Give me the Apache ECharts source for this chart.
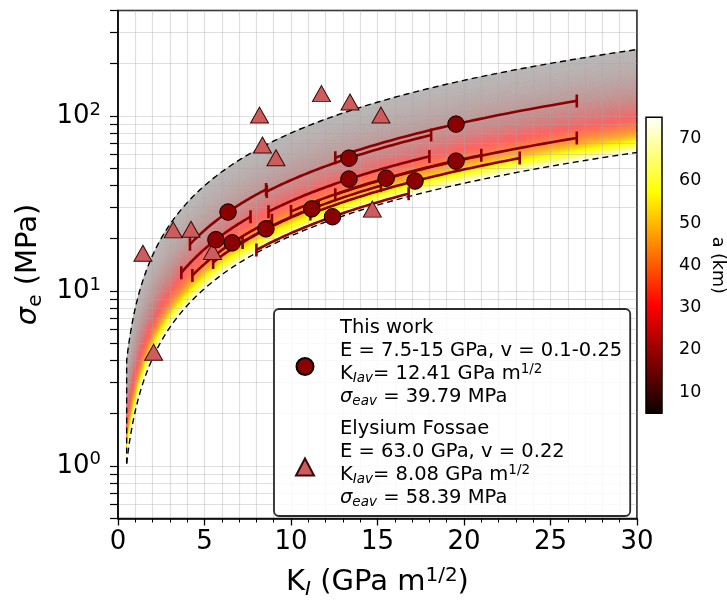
<!DOCTYPE html>
<html><head><meta charset="utf-8">
<script src="https://cdn.jsdelivr.net/npm/echarts@6/dist/echarts.min.js"></script>
<style>html,body{margin:0;padding:0;background:#fff}#c{width:727px;height:608px}</style>
</head><body><div id="c"></div>
<script>
// ---------- data ----------
const xTicks = [0, 5, 10, 15, 20, 25, 30];
const yMajorTicks = [1, 10, 100];
const yAllTicks = [0.5,0.6,0.7,0.8,0.9,1,2,3,4,5,6,7,8,9,10,20,30,40,50,60,70,80,90,100,200,300,400];
const cbarTicks = [10, 20, 30, 40, 50, 60, 70];

// This work: K_I (GPa m^1/2), sigma_e (MPa), half range of K along the constant-a curve
const workK     = [19.54, 13.35, 6.36, 13.35, 15.5, 17.17, 19.54, 11.2, 12.4, 5.66, 6.6, 8.55];
const workSigma = [89.7, 57.3, 28.2, 43.5, 44.0, 42.4, 55.1, 29.4, 26.5, 19.6, 18.8, 22.6];
const workHalfK = [6.98, 4.75, 2.2, 4.65, 5.5, 6.05, 6.98, 4.0, 4.4, 2.0, 2.3, 3.05];

// Elysium Fossae
const elysK     = [1.44, 3.19, 4.22, 5.46, 8.18, 8.35, 9.13, 11.76, 13.41, 15.2, 14.7, 2.06];
const elysSigma = [16.4, 22.3, 22.5, 16.8, 101, 68.1, 57.6, 134, 120, 101, 29.3, 4.46];

// model band: sigma = K / sqrt(pi a), a in km (colour bar range), K range of the band
const aRange = [5, 75];
const kRange = [0.5, 30];

// ---------- helpers ----------
const FONT = 'DejaVu Sans';
const C = Math.sqrt(1000 / Math.PI);
function sigmaOf(K, a) { return K * C / Math.sqrt(a); }
function clamp(v) { return Math.max(0, Math.min(1, v)); }
function hot(t) {
  const r = t < 0.365079 ? 0.0416 + (1 - 0.0416) * t / 0.365079 : 1;
  const g = clamp((t - 0.365079) / (0.746032 - 0.365079));
  const b = clamp((t - 0.746032) / (1 - 0.746032));
  return [r, g, b];
}
function bandColor(a) {
  const t = (a - aRange[0]) / (aRange[1] - aRange[0]);
  const c = hot(t);
  const al = Math.min(1, 0.28 + 0.72 * Math.pow(t / 0.8, 1.0));
  const m = c.map(v => Math.round(255 * (1 - al * (1 - v))));
  return 'rgb(' + m.join(',') + ')';
}
function kSamples(k0, k1, n) {
  const out = [];
  for (let j = 0; j <= n; j++) out.push(k0 * Math.pow(k1 / k0, j / n));
  return out;
}

function renderBand(params, api) {
  const children = [];
  const Ks = kSamples(kRange[0], kRange[1], 160);
  const nA = 140;
  for (let i = 0; i < nA; i++) {
    const a0 = aRange[0] + (aRange[1] - aRange[0]) * i / nA;
    const a1 = aRange[0] + (aRange[1] - aRange[0]) * (i + 1) / nA;
    const pts = [];
    for (let j = 0; j < Ks.length; j++) pts.push(api.coord([Ks[j], sigmaOf(Ks[j], a0)]));
    for (let j = Ks.length - 1; j >= 0; j--) pts.push(api.coord([Ks[j], sigmaOf(Ks[j], a1)]));
    const col = bandColor((a0 + a1) / 2);
    children.push({ type: 'polygon', shape: { points: pts }, style: { fill: col, stroke: col, lineWidth: 0.8 } });
  }
  return { type: 'group', children };
}
function renderEdges(params, api) {
  const Ks = kSamples(kRange[0], kRange[1], 160);
  const up = [api.coord([Ks[0], sigmaOf(Ks[0], aRange[1])])];
  Ks.forEach(k => up.push(api.coord([k, sigmaOf(k, aRange[0])])));
  const lo = Ks.map(k => api.coord([k, sigmaOf(k, aRange[1])]));
  const st = { stroke: '#000', lineWidth: 1.4, lineDash: [6, 4], fill: null };
  return { type: 'group', children: [
    { type: 'polyline', shape: { points: up }, style: st },
    { type: 'polyline', shape: { points: lo }, style: st }
  ] };
}
function renderWorkLine(params, api) {
  const k = api.value(0), s = api.value(1), h = api.value(2);
  const r = s / k;
  const Ks = kSamples(k - h, k + h, 40);
  const pts = Ks.map(kk => api.coord([kk, r * kk]));
  const p0 = pts[0], p1 = pts[pts.length - 1];
  const col = '#8b0000';
  const cap = 6.5;
  return { type: 'group', children: [
    { type: 'polyline', shape: { points: pts }, style: { stroke: col, lineWidth: 2.6, fill: null } },
    { type: 'line', shape: { x1: p0[0], y1: p0[1] - cap, x2: p0[0], y2: p0[1] + cap }, style: { stroke: col, lineWidth: 2.6 } },
    { type: 'line', shape: { x1: p1[0], y1: p1[1] - cap, x2: p1[0], y2: p1[1] + cap }, style: { stroke: col, lineWidth: 2.6 } }
  ] };
}
function renderCbar(params, api) {
  const p0 = api.coord([0, aRange[0]]);
  const p1 = api.coord([1, aRange[1]]);
  return { type: 'rect',
    shape: { x: p0[0], y: p1[1], width: p1[0] - p0[0], height: p0[1] - p1[1] },
    style: { fill: { type: 'linear', x: 0, y: 1, x2: 0, y2: 0, colorStops: [
      { offset: 0, color: 'rgb(11,0,0)' }, { offset: 0.365079, color: 'rgb(255,0,0)' },
      { offset: 0.746032, color: 'rgb(255,255,0)' }, { offset: 1, color: 'rgb(255,255,255)' } ] },
      stroke: '#000', lineWidth: 1.5 } };
}

const gridLine = { color: 'rgba(165,165,165,0.36)', width: 1.2 };
const richBase = {
  n: { fontFamily: FONT, fontSize: 19.5, lineHeight: 23, color: '#000' },
  i: { fontFamily: FONT, fontSize: 19.5, lineHeight: 23, fontStyle: 'italic', color: '#000' },
  sub: { fontFamily: FONT, fontSize: 13.5, lineHeight: 12, verticalAlign: 'bottom', fontStyle: 'italic', color: '#000' },
  sup: { fontFamily: FONT, fontSize: 13.5, lineHeight: 12, verticalAlign: 'top', color: '#000' },
  gap: { fontFamily: FONT, fontSize: 6, lineHeight: 8, color: 'rgba(0,0,0,0)' }
};
const legendText = {
  'This work': '{n|This work}\n{n|E = 7.5-15 GPa, v = 0.1-0.25}\n{n|K}{sub|Iav}{n|= 12.41 GPa m}{sup|1/2}\n{i|σ}{sub|eav}{n| = 39.79 MPa}\n{gap| }',
  'Elysium Fossae': '{n|Elysium Fossae}\n{n|E = 63.0 GPa, v = 0.22}\n{n|K}{sub|Iav}{n|= 8.08 GPa m}{sup|1/2}\n{i|σ}{sub|eav}{n| = 58.39 MPa}\n{gap| }'
};

const TICK_FS = 26, NAME_FS = 29;
const chart = echarts.init(document.getElementById('c'), null, { renderer: 'canvas' });
chart.setOption({
  animation: false,
  backgroundColor: '#fff',
  grid: [
    { left: 118, top: 10.5, width: 519, height: 508, show: true, borderColor: '#000', borderWidth: 1.5, backgroundColor: 'transparent', outerBoundsMode: 'none', containLabel: false },
    { left: 646, top: 117.3, width: 16, height: 296, show: false, outerBoundsMode: 'none', containLabel: false }
  ],
  xAxis: [
    { type: 'value', gridIndex: 0, min: 0, max: 30, interval: 5,
      axisLine: { show: true, onZero: false, lineStyle: { color: '#000', width: 1.5 } },
      axisTick: { show: true, length: 7, lineStyle: { color: '#000', width: 1.3 } },
      minorTick: { show: true, splitNumber: 5, length: 4, lineStyle: { color: '#000', width: 1 } },
      axisLabel: { color: '#000', fontFamily: FONT, fontSize: TICK_FS, margin: 11 },
      splitLine: { show: true, lineStyle: gridLine },
      minorSplitLine: { show: true, lineStyle: gridLine },
      name: '{n|K}{sub|I}{n| (GPa m}{sup|1/2}{n|)}', nameLocation: 'middle', nameGap: 47,
      nameTextStyle: { rich: {
        n: { fontFamily: FONT, fontSize: NAME_FS, lineHeight: 34, color: '#000' },
        sub: { fontFamily: FONT, fontSize: 20, lineHeight: 20, verticalAlign: 'bottom', fontStyle: 'italic', color: '#000' },
        sup: { fontFamily: FONT, fontSize: 20, lineHeight: 20, verticalAlign: 'top', color: '#000' } } } },
    { type: 'value', gridIndex: 1, min: 0, max: 1, show: false }
  ],
  yAxis: [
    { type: 'log', logBase: 10, gridIndex: 0, min: 0.5, max: 400,
      axisLine: { show: true, onZero: false, lineStyle: { color: '#000', width: 1.5 } },
      axisTick: { show: true, length: 8, customValues: yAllTicks, lineStyle: { color: '#000', width: 1.2 } },
      axisLabel: { customValues: yMajorTicks, margin: 17,
        formatter: v => '{b|10}{s|' + Math.round(Math.log10(v)) + '}',
        rich: { b: { fontFamily: FONT, fontSize: TICK_FS, lineHeight: 30, color: '#000' },
                s: { fontFamily: FONT, fontSize: 18, lineHeight: 18, verticalAlign: 'top', color: '#000' } } },
      splitLine: { show: true, lineStyle: gridLine },
      name: '{i|σ}{sub|e}{n| (MPa)}', nameLocation: 'middle', nameGap: 63, nameRotate: 90,
      nameTextStyle: { rich: {
        n: { fontFamily: FONT, fontSize: NAME_FS, lineHeight: 34, color: '#000' },
        i: { fontFamily: FONT, fontSize: NAME_FS, lineHeight: 34, fontStyle: 'italic', color: '#000' },
        sub: { fontFamily: FONT, fontSize: 20, lineHeight: 20, verticalAlign: 'bottom', color: '#000' } } } },
    { type: 'value', gridIndex: 1, min: aRange[0], max: aRange[1], position: 'right',
      axisLine: { show: false },
      axisTick: { show: true, length: 8, customValues: cbarTicks, lineStyle: { color: '#000', width: 1.3 } },
      axisLabel: { customValues: cbarTicks, color: '#000', fontFamily: FONT, fontSize: 17.5, margin: 17 },
      splitLine: { show: false },
      name: 'a (km)', nameLocation: 'middle', nameRotate: -90, nameGap: 47,
      nameTextStyle: { fontFamily: FONT, fontSize: 17.5, color: '#000' } }
  ],
  legend: {
    show: true, orient: 'vertical', left: 274, top: 309,
    padding: [9, 8, 0, 21], itemGap: 3, itemWidth: 18, itemHeight: 17,
    backgroundColor: 'rgba(255,255,255,0.85)', borderColor: '#2a2a2a', borderWidth: 1.8, borderRadius: 5,
    selectedMode: false,
    data: ['This work', 'Elysium Fossae'],
    formatter: name => legendText[name],
    textStyle: { padding: [0, 0, 0, 21], rich: richBase }
  },
  series: [
    { type: 'custom', name: 'band', coordinateSystem: 'cartesian2d', xAxisIndex: 0, yAxisIndex: 0,
      z: -1, silent: true, clip: true, renderItem: renderBand, data: [[kRange[0], 1]] },
    { type: 'custom', name: 'edges', coordinateSystem: 'cartesian2d', xAxisIndex: 0, yAxisIndex: 0,
      z: 3, silent: true, clip: true, renderItem: renderEdges, data: [[kRange[0], 1]] },
    { type: 'custom', name: 'workLines', coordinateSystem: 'cartesian2d', xAxisIndex: 0, yAxisIndex: 0,
      z: 4, silent: true, clip: true, renderItem: renderWorkLine,
      encode: { x: 0, y: 1 },
      data: workK.map((k, i) => [k, workSigma[i], workHalfK[i]]) },
    { type: 'scatter', name: 'Elysium Fossae', xAxisIndex: 0, yAxisIndex: 0, z: 5,
      symbol: 'triangle', symbolSize: [18, 16],
      itemStyle: { color: '#cd5c5c', borderColor: '#3a0808', borderWidth: 1, opacity: 1 },
      data: elysK.map((k, i) => [k, elysSigma[i]]) },
    { type: 'scatter', name: 'This work', xAxisIndex: 0, yAxisIndex: 0, z: 6,
      symbol: 'circle', symbolSize: 16.5,
      itemStyle: { color: '#8b0000', borderColor: '#000', borderWidth: 1, opacity: 1 },
      data: workK.map((k, i) => [k, workSigma[i]]) },
    { type: 'custom', name: 'cbar', coordinateSystem: 'cartesian2d', xAxisIndex: 1, yAxisIndex: 1,
      silent: true, renderItem: renderCbar, data: [[0, aRange[0]]] }
  ]
});
</script></body></html>
